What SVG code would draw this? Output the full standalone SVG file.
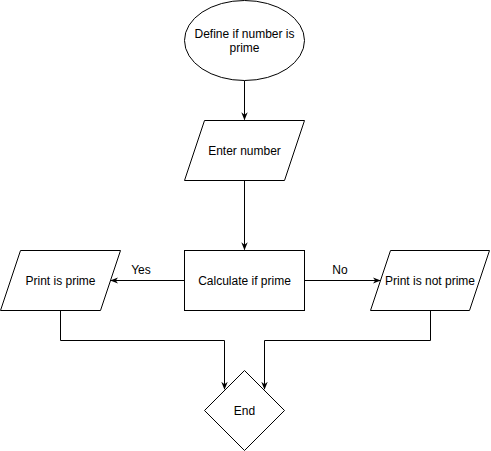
<svg xmlns="http://www.w3.org/2000/svg" width="491" height="451" viewBox="0 0 491 451">
<defs>
<style>
.s{fill:#fff;stroke:#000;stroke-width:1}
.t{font-family:"Liberation Sans",Arial,Helvetica,sans-serif;font-size:12px;fill:#000;text-anchor:middle;dominant-baseline:central}
.e{fill:none;stroke:#000;stroke-width:1}
</style>
<marker id="a" viewBox="0 0 10 10" refX="9" refY="5" markerWidth="8" markerHeight="8" markerUnits="userSpaceOnUse" orient="auto">
<path d="M0,1 L10,5 L0,9 L3,5 Z" fill="#000"/>
</marker>
</defs>
<rect width="491" height="451" fill="#fff"/>
<g id="connectors">
<path class="e" d="M244.5,80.5 V119.5" marker-end="url(#a)"/>
<path class="e" d="M244.5,180.5 V249.5" marker-end="url(#a)"/>
<path class="e" d="M184.5,280.5 H111" marker-end="url(#a)"/>
<path class="e" d="M304.5,280.5 H380" marker-end="url(#a)"/>
<path class="e" d="M60.5,310.5 V340.5 H224.5 V389" marker-end="url(#a)"/>
<path class="e" d="M430.5,310.5 V340.5 H264.5 V389" marker-end="url(#a)"/>
<text class="t" x="141" y="270">Yes</text>
<text class="t" x="340" y="270">No</text>
</g>
<g id="start">
<ellipse class="s" cx="244.5" cy="40.5" rx="60" ry="40"/>
<text class="t" x="244.5" y="34">Define if number is</text>
<text class="t" x="244.5" y="48">prime</text>
</g>
<g id="enter">
<polygon class="s" points="204.5,120.5 304.5,120.5 284.5,180.5 184.5,180.5"/>
<text class="t" x="244.5" y="150.5">Enter number</text>
</g>
<g id="calc">
<rect class="s" x="184.5" y="250.5" width="120" height="60"/>
<text class="t" x="244.5" y="280.5">Calculate if prime</text>
</g>
<g id="isprime">
<polygon class="s" points="20.5,250.5 120.5,250.5 100.5,310.5 0.5,310.5"/>
<text class="t" x="60.5" y="280.5">Print is prime</text>
</g>
<g id="notprime">
<polygon class="s" points="390.5,250.5 489.5,250.5 469.5,310.5 370.5,310.5"/>
<text class="t" x="430" y="280.5">Print is not prime</text>
</g>
<g id="end">
<polygon class="s" points="244.5,370.5 284.5,410.5 244.5,450.5 204.5,410.5"/>
<text class="t" x="244.5" y="410.5">End</text>
</g>
</svg>
